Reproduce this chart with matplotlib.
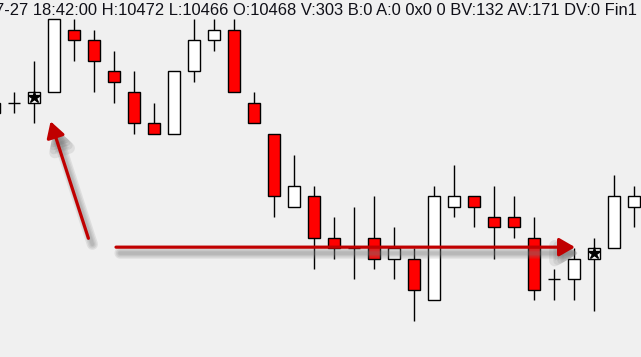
import numpy as np
import matplotlib
matplotlib.use("Agg")
import matplotlib.pyplot as plt
from matplotlib.patches import FancyArrowPatch
from matplotlib.transforms import offset_copy

# candle data (one bar per slot, price in points)
opens = [10467, 10468, 10468, 10469, 10475, 10474, 10471, 10469, 10466, 10465,
         10471, 10474, 10475, 10468, 10465, 10458, 10459, 10455, 10454, 10455,
         10453, 10453, 10449, 10458, 10459, 10457, 10457, 10455, 10451, 10451,
         10453, 10454, 10458]
highs = [10468, 10469, 10472, 10476, 10476, 10475, 10473, 10471, 10468, 10471,
         10476, 10476, 10476, 10469, 10465, 10463, 10460, 10457, 10458, 10459,
         10456, 10454, 10460, 10462, 10459, 10460, 10459, 10457, 10452, 10454,
         10455, 10461, 10460]
lows = [10467, 10467, 10466, 10469, 10472, 10469, 10468, 10465, 10465, 10465,
        10470, 10473, 10469, 10466, 10457, 10458, 10452, 10453, 10451, 10452,
        10451, 10447, 10449, 10457, 10456, 10453, 10455, 10449, 10449, 10449,
        10448, 10454, 10456]
closes = [10468, 10468, 10469, 10476, 10474, 10472, 10470, 10466, 10465, 10471,
          10474, 10475, 10469, 10466, 10459, 10460, 10455, 10454, 10454, 10453,
          10454, 10450, 10459, 10459, 10458, 10456, 10456, 10450, 10451, 10453,
          10454, 10459, 10459]
star_bars = [2, 30]

header = ("7-27 18:42:00 H:10472 L:10466 O:10468 V:303 B:0 A:0 0x0 0 "
          "BV:132 AV:171 DV:0 Fin1")

# arrows: (start index, start price) -> (end index, end price)
arrow1 = ((4.72, 10454.95), (2.83, 10466.2))
arrow2 = ((6.1, 10454.1), (29.05, 10454.1))

bg = "#f0f0f0"
W, H = 641, 357
fig = plt.figure(figsize=(W / 100, H / 100), dpi=100, facecolor=bg)
ax = fig.add_axes([0, 0, 1, 1])
ax.set_facecolor(bg)
ax.axis("off")

x = np.arange(len(opens))
o = np.array(opens)
c = np.array(closes)
hi = np.array(highs)
lo = np.array(lows)

ax.vlines(x, lo, hi, color="black", lw=1.0, zorder=2)
body_lo = np.minimum(o, c)
body_h = np.abs(c - o)
cols = np.where(c > o, "white", "#ff0000")
flat = body_h == 0
ax.bar(x[~flat], body_h[~flat], bottom=body_lo[~flat], width=0.6,
       color=cols[~flat], edgecolor="black", linewidth=1.0, zorder=3)
ax.hlines(o[flat], x[flat] - 0.3, x[flat] + 0.3, color="black", lw=1.0, zorder=3)

for i in star_bars:
    ax.plot(x[i], (o[i] + c[i]) / 2, marker="*", color="black", ms=9,
            mec="black", zorder=4)

# pixel mapping: bar 0 centre at x=-6 px, 20 px per bar; 10.4 px per point
ax.set_xlim((0 + 6) / 20, (W + 6) / 20)
ax.set_ylim(10472 - (H - 61) / 10.4, 10472 + 61 / 10.4)

arrow_red = "#c00000"
shadow_tr = offset_copy(ax.transData, fig=fig, x=4, y=-6, units="dots")
for p0, p1 in [arrow1, arrow2]:
    # soft drop shadow, built from a few stacked translucent strokes
    for sw in [8, 6, 4, 2.5]:
        sh = FancyArrowPatch(p0, p1, arrowstyle="-|>,head_length=9.5,head_width=5.5",
                             mutation_scale=1, color="#7a7a7a", lw=sw, alpha=0.15,
                             shrinkA=0, shrinkB=0, zorder=4.5, transform=shadow_tr,
                             joinstyle="round", capstyle="round")
        ax.add_patch(sh)
    arr = FancyArrowPatch(p0, p1, arrowstyle="-|>,head_length=9.5,head_width=5.5",
                          mutation_scale=1, color=arrow_red, lw=2.3,
                          shrinkA=0, shrinkB=0, zorder=5)
    ax.add_patch(arr)

fig.text(637 / W, 1 - 15 / H, header, ha="right", va="baseline",
         fontsize=11.9, family="Liberation Sans", color="#101018")

fig.savefig("out.png", dpi=100, facecolor=bg)
